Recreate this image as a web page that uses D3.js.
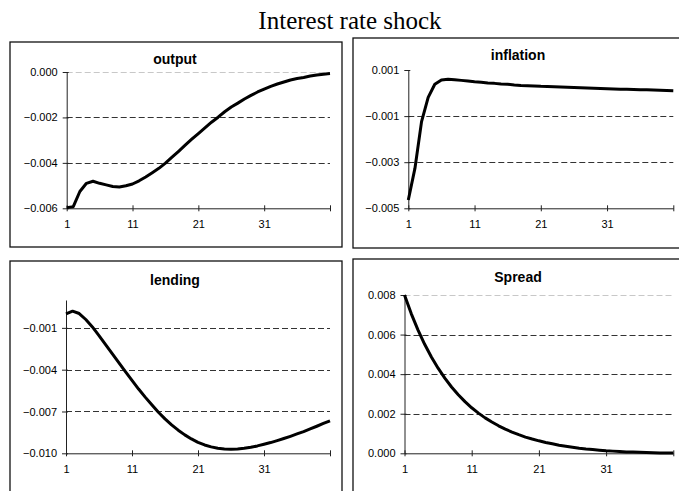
<!DOCTYPE html>
<html>
<head>
<meta charset="utf-8">
<script src="https://cdn.jsdelivr.net/npm/d3@7"></script>
<style>
  html, body { margin: 0; padding: 0; background: #fff; }
  svg { display: block; }
  .tick-label { font-family: "Liberation Sans", Arial, sans-serif; font-size: 11px; fill: #000; }
  .panel-title { font-family: "Liberation Sans", Arial, sans-serif; font-size: 14px; font-weight: bold; fill: #000; }
  .main-title { font-family: "Liberation Serif", "Times New Roman", serif; font-size: 25px; fill: #000; }
</style>
</head>
<body>
<div class="chart"></div>
<script>
// periods 1..41
const periods = d3.range(1, 42);
const xTickLabels = [1, 11, 21, 31];

const output = [
  -0.00597, -0.00593, -0.00526, -0.00490, -0.00481, -0.00490, -0.00497, -0.00504, -0.00506, -0.00501,
  -0.00493, -0.00479, -0.00462, -0.00443, -0.00424, -0.00401, -0.00375, -0.00349, -0.00322, -0.00296,
  -0.00271, -0.00246, -0.00221, -0.00199, -0.00175, -0.00154, -0.00137, -0.00119, -0.00103, -0.00088,
  -0.00075, -0.00063, -0.00053, -0.00044, -0.00035, -0.00029, -0.00024, -0.00018, -0.00013, -0.00010,
  -0.00007
];
const inflation = [
  -0.00464, -0.00327, -0.00124, -0.00019, 0.00038, 0.00057, 0.00060, 0.00058, 0.00055, 0.00052,
  0.00049, 0.00047, 0.00044, 0.00042, 0.00039, 0.00038, 0.00035, 0.00033, 0.00032, 0.00031,
  0.00029, 0.00028, 0.00027, 0.00026, 0.00025, 0.00024, 0.00023, 0.00022, 0.00021, 0.00020,
  0.00019, 0.00018, 0.00017, 0.00016, 0.00015, 0.00014, 0.00014, 0.00013, 0.00012, 0.00011,
  0.00010
];
const lending = [
  0.00000, 0.00020, 0.00003, -0.00040, -0.00093, -0.00155, -0.00220, -0.00285, -0.00350, -0.00414,
  -0.00477, -0.00539, -0.00597, -0.00652, -0.00705, -0.00753, -0.00796, -0.00834, -0.00868, -0.00897,
  -0.00921, -0.00940, -0.00954, -0.00964, -0.00969, -0.00971, -0.00969, -0.00964, -0.00957, -0.00947,
  -0.00935, -0.00923, -0.00909, -0.00894, -0.00878, -0.00861, -0.00844, -0.00825, -0.00806, -0.00786,
  -0.00767
];
const spread = [
  0.00800, 0.00706, 0.00624, 0.00551, 0.00487, 0.00430, 0.00380, 0.00335, 0.00296, 0.00261,
  0.00230, 0.00203, 0.00179, 0.00158, 0.00139, 0.00122, 0.00107, 0.00094, 0.00082, 0.00072,
  0.00063, 0.00055, 0.00048, 0.00041, 0.00036, 0.00031, 0.00026, 0.00022, 0.00019, 0.00016,
  0.00013, 0.00011, 0.00009, 0.00007, 0.00006, 0.00005, 0.00004, 0.00003, 0.00002, 0.00002,
  0.00001
];

const outputTicks = [0, -0.002, -0.004, -0.006];
const inflationTicks = [0.001, -0.001, -0.003, -0.005];
const lendingTicks = [-0.001, -0.004, -0.007, -0.010];
const spreadTicks = [0.008, 0.006, 0.004, 0.002, 0.000];

const width = 679, height = 491;

const svg = d3.select(".chart").append("svg")
  .attr("width", width)
  .attr("height", height);

svg.append("text")
  .attr("class", "main-title")
  .attr("x", 350)
  .attr("y", 29)
  .attr("text-anchor", "middle")
  .text("Interest rate shock");

const panels = [
  { title: "output", values: output, ticks: outputTicks, domain: [-0.006, 0],
    box: [10, 42, 332, 205], plot: { left: 66.7, right: 330, top: 72, bottom: 208.3 }, titleY: 64,
    topGrid: true },
  { title: "inflation", values: inflation, ticks: inflationTicks, domain: [-0.005, 0.001],
    box: [353, 38, 340, 210], plot: { left: 408.3, right: 673.3, top: 70, bottom: 208.3 }, titleY: 60,
    topGrid: false },
  { title: "lending", values: lending, ticks: lendingTicks, domain: [-0.010, 0.001],
    box: [10, 261, 332, 260], plot: { left: 66, right: 330, top: 300, bottom: 453.3 }, titleY: 285,
    topGrid: false },
  { title: "Spread", values: spread, ticks: spreadTicks, domain: [0, 0.008],
    box: [353, 259, 340, 260], plot: { left: 404.5, right: 673.3, top: 295, bottom: 453.3 }, titleY: 282,
    topGrid: true }
];

panels.forEach(function (p) {
  drawPanel(p);
});

function drawPanel(p) {
  let g = svg.append("g");

  g.append("rect")
    .attr("x", p.box[0])
    .attr("y", p.box[1])
    .attr("width", p.box[2])
    .attr("height", p.box[3])
    .attr("fill", "none")
    .attr("stroke", "#111")
    .attr("stroke-width", 1.3);

  let x = d3.scaleLinear().domain([1, 41]).range([p.plot.left, p.plot.right]);
  let y = d3.scaleLinear().domain(p.domain).range([p.plot.bottom, p.plot.top]);

  // gridlines
  let gridTicks = p.ticks.filter(t => Math.abs(t - p.domain[0]) > 1e-9);
  g.append("g")
    .selectAll("line")
    .data(gridTicks)
    .join("line")
    .attr("x1", p.plot.left)
    .attr("x2", p.plot.right)
    .attr("y1", d => Math.round(y(d)) + 0.5)
    .attr("y2", d => Math.round(y(d)) + 0.5)
    .attr("stroke", d => Math.abs(d - p.domain[1]) < 1e-9 ? "#c8c8c8" : "#333")
    .attr("stroke-dasharray", "6,3")
    .attr("display", d => (Math.abs(d - p.domain[1]) < 1e-9 && !p.topGrid) ? "none" : null);

  // y axis
  let yAxis = d3.axisLeft(y)
    .tickValues(p.ticks)
    .tickFormat(d3.format(".3f"))
    .tickSizeInner(4)
    .tickSizeOuter(0)
    .tickPadding(5);
  let yG = g.append("g")
    .attr("transform", "translate(" + p.plot.left + ",0)")
    .call(yAxis);
  yG.select(".domain").attr("stroke", "#222");
  yG.selectAll(".tick line").attr("stroke", "#222").attr("x2", -4).attr("x1", 2);
  yG.selectAll(".tick text").attr("class", "tick-label").attr("font-family", null).attr("font-size", null);

  // x axis
  let xAxis = d3.axisBottom(x)
    .tickValues([1, 11, 21, 31, 41])
    .tickFormat(d => xTickLabels.includes(d) ? d : "")
    .tickSizeInner(3)
    .tickSizeOuter(0)
    .tickPadding(9);
  let xG = g.append("g")
    .attr("transform", "translate(0," + p.plot.bottom + ")")
    .call(xAxis);
  xG.select(".domain").attr("stroke", "#222");
  xG.selectAll(".tick line").attr("stroke", "#222").attr("y1", -3).attr("y2", 3);
  xG.selectAll(".tick text").attr("class", "tick-label").attr("font-family", null).attr("font-size", null);

  // data line
  let line = d3.line()
    .x((d, i) => x(periods[i]))
    .y(d => y(d));

  g.append("path")
    .datum(p.values)
    .attr("fill", "none")
    .attr("stroke", "#000")
    .attr("stroke-width", 3)
    .attr("stroke-linejoin", "round")
    .attr("d", line);

  g.append("text")
    .attr("class", "panel-title")
    .attr("x", p.box[0] === 10 ? 175 : 518)
    .attr("y", p.titleY)
    .attr("text-anchor", "middle")
    .text(p.title);
}
</script>
</body>
</html>
